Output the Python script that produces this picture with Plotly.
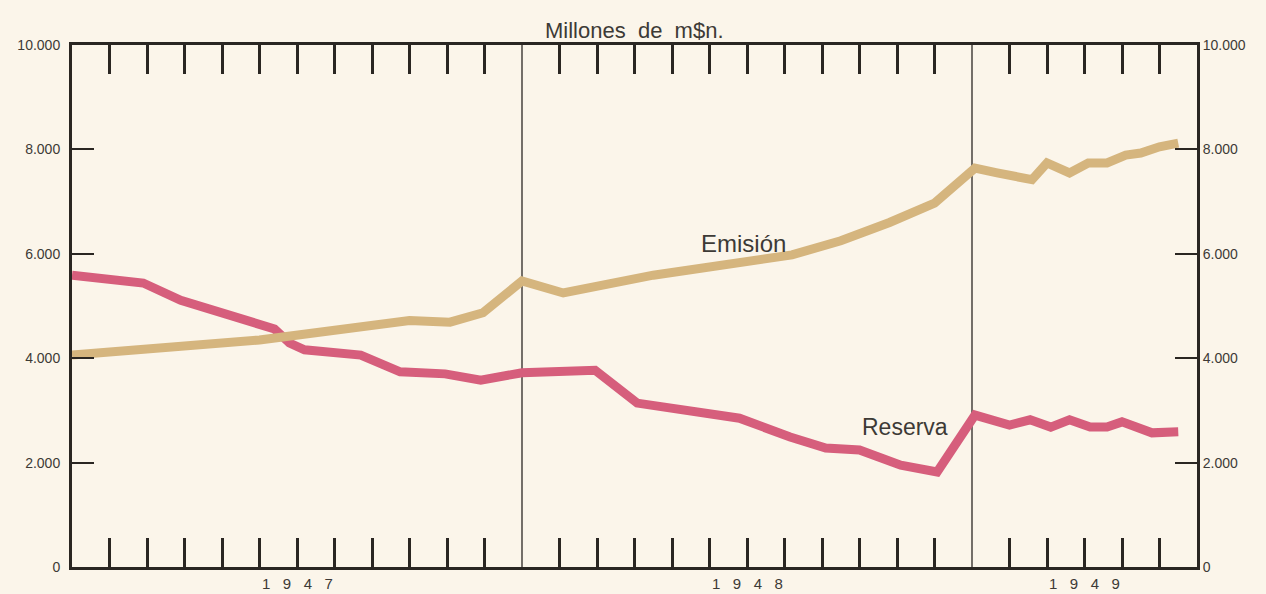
import plotly.graph_objects as go

# months since 1 Jan 1947
emision_x = [0, 1, 1.9, 3.76, 5, 6.08, 6.96, 8, 9, 10.08, 10.96, 12, 13.1, 15.5, 18, 19.2,
             20.5, 21.8, 23, 24.08, 24.67, 25.6, 26.0, 26.6, 27.1, 27.6, 28.1, 28.5, 29.0, 29.5]
emision_y = [4060, 4120, 4160, 4250, 4350, 4450, 4540, 4640, 4720, 4690, 4870, 5480, 5250, 5590,
             5880, 5980, 6250, 6600, 6970, 7640, 7550, 7420, 7740, 7550, 7740, 7740, 7890, 7930,
             8050, 8120]

reserva_x = [0, 0.75, 1.9, 2.9, 4.75, 5.4, 5.8, 6.2, 7.7, 8.75, 9.95, 10.9, 12, 13.95, 15.07,
             16.75, 17.8, 19.15, 20.1, 21.0, 22.1, 23.07, 24.08, 25.0, 25.55, 26.1, 26.6, 27.15,
             27.6, 28.0, 28.8, 29.5]
reserva_y = [5590, 5540, 5440, 5110, 4730, 4560, 4290, 4160, 4060, 3740, 3700, 3580, 3720, 3770,
             3140, 2950, 2850, 2490, 2280, 2240, 1950, 1820, 2910, 2720, 2820, 2680, 2820, 2680,
             2680, 2780, 2570, 2590]

y_ticks = [0, 2000, 4000, 6000, 8000, 10000]
y_tick_labels = ["0", "2.000", "4.000", "6.000", "8.000", "10.000"]
years = ["1947", "1948", "1949"]
year_centers = [6, 18, 27]
year_dividers = [12, 24]
month_ticks = [m for m in range(1, 30) if m not in (12, 24)]

BG = "#FBF5EA"
INK = "#2a2622"
TXT = "#3d3a36"
NB = "\u00a0"

fig = go.Figure()
fig.add_trace(go.Scatter(x=reserva_x, y=reserva_y, mode="lines", name="Reserva",
                         line=dict(color="rgb(214,94,124)", width=9), yaxis="y"))
fig.add_trace(go.Scatter(x=emision_x, y=emision_y, mode="lines", name="Emisión",
                         line=dict(color="rgb(213,181,126)", width=9), yaxis="y2"))

for d in year_dividers:
    fig.add_shape(type="line", x0=d, x1=d, y0=0, y1=1, xref="x", yref="paper",
                  line=dict(color=INK, width=1.3), layer="below")

for yr, xc in zip(years, year_centers):
    fig.add_annotation(x=xc, y=0, xref="x", yref="paper", text=(NB * 3).join(yr),
                       showarrow=False, yshift=-16, yanchor="middle",
                       font=dict(family="Liberation Sans", size=15, color=TXT))

fig.add_annotation(x=0.5, y=1, xref="paper", yref="paper",
                   text=f"Millones{NB*2}de{NB*2}m$n.",
                   showarrow=False, yshift=15, yanchor="middle",
                   font=dict(family="Liberation Sans", size=22, color=TXT))
fig.add_annotation(x=17.9, y=6200, xref="x", yref="y", text="Emisión", showarrow=False,
                   font=dict(family="Liberation Sans", size=24, color=TXT))
fig.add_annotation(x=22.2, y=2680, xref="x", yref="y", text="Reserva", showarrow=False,
                   font=dict(family="Liberation Sans", size=23, color=TXT))

yax = dict(range=[0, 10000], tickvals=y_ticks, ticktext=y_tick_labels, ticks="inside",
           ticklen=22, tickwidth=2, tickcolor=INK, showgrid=False, zeroline=False,
           showline=True, linecolor=INK, linewidth=3,
           tickfont=dict(family="Liberation Sans", size=14, color=TXT))

fig.update_layout(
    width=1266, height=594,
    margin=dict(l=72, r=69, t=45, b=27),
    paper_bgcolor=BG, plot_bgcolor=BG,
    showlegend=False,
    xaxis=dict(range=[0, 30], tickvals=month_ticks, showticklabels=False, ticks="inside",
               ticklen=29, tickwidth=2.5, tickcolor=INK, mirror="ticks", showline=True,
               linecolor=INK, linewidth=3, showgrid=False, zeroline=False),
    yaxis=dict(**yax, side="left", ticklabelstandoff=6),
    yaxis2=dict(**yax, side="right", overlaying="y", matches="y"),
)

fig.write_html("out.html", config={"displayModeBar": False},
               post_script="document.body.style.margin='0';document.body.style.overflow='hidden';")
